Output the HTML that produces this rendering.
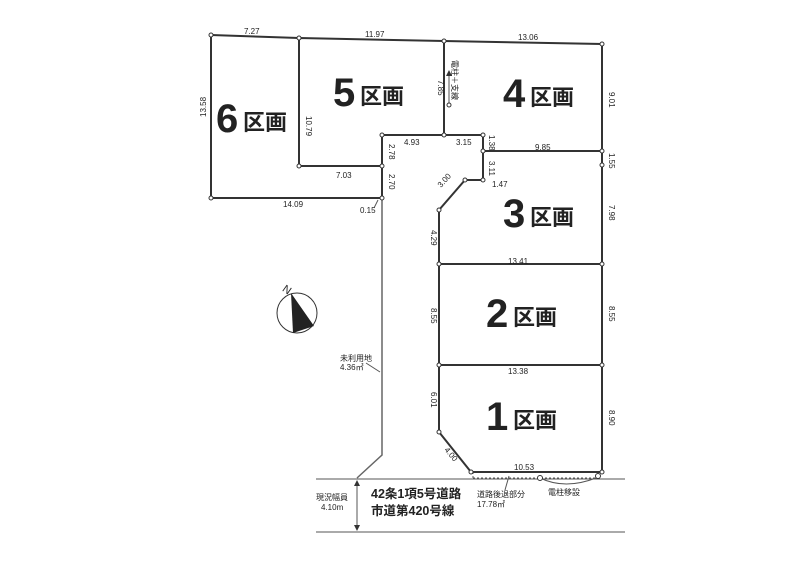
<!DOCTYPE html>
<html><head><meta charset="utf-8"><style>
body{margin:0;background:#fff}
svg{display:block}
text{font-family:"Liberation Sans","Noto Sans CJK JP",sans-serif;fill:#222}
.s{font-size:8px}
.big{font-size:40px;font-weight:bold}
.k{font-size:22px;font-weight:bold}
</style></head><body>
<svg width="800" height="583" viewBox="0 0 800 583">
<g stroke="#333" stroke-width="2" fill="none">
<polyline points="211,35 299,38 444,41 602,44 602,472 471,472 439,432 439,210 465,180 483,180 483,135 382,135 382,166 299,166 299,38"/>
<polyline points="211,35 211,198 382,198 382,166"/>
<line x1="444" y1="41" x2="444" y2="135"/>
<line x1="483" y1="151" x2="602" y2="151"/>
<line x1="439" y1="264" x2="602" y2="264"/>
<line x1="439" y1="365" x2="602" y2="365"/>
</g>
<g stroke="#666" stroke-width="1.5" fill="none">
<polyline points="382,198 382,455 357,478"/>
</g>
<g stroke="#555" stroke-width="1" fill="none">
<line x1="316" y1="479" x2="625" y2="479"/>
<line x1="316" y1="532" x2="625" y2="532"/>
<line x1="357" y1="481" x2="357" y2="530"/>
<line x1="473" y1="478" x2="600" y2="478" stroke-dasharray="2,2"/>
<line x1="473" y1="472" x2="473" y2="478" stroke-dasharray="2,2"/>
<line x1="509" y1="476" x2="505" y2="490"/>
<path d="M540,478 Q565,490 596,478"/>
<line x1="449" y1="74" x2="449" y2="105"/>
<line x1="378" y1="200" x2="374" y2="208"/>
<line x1="366" y1="363" x2="380" y2="372"/>
</g>
<polygon points="357,480 354,486 360,486" fill="#333"/>
<polygon points="357,531 354,525 360,525" fill="#333"/>
<polygon points="449,70 446,76 452,76" fill="#333"/>
<g fill="#fff" stroke="#333" stroke-width="1">
<circle cx="211" cy="35" r="2"/><circle cx="299" cy="38" r="2"/><circle cx="444" cy="41" r="2"/><circle cx="602" cy="44" r="2"/>
<circle cx="211" cy="198" r="2"/><circle cx="382" cy="198" r="2"/><circle cx="382" cy="166" r="2"/><circle cx="299" cy="166" r="2"/>
<circle cx="382" cy="135" r="2"/><circle cx="444" cy="135" r="2"/><circle cx="483" cy="135" r="2"/><circle cx="483" cy="151" r="2"/>
<circle cx="602" cy="151" r="2"/><circle cx="602" cy="165" r="2"/><circle cx="483" cy="180" r="2"/><circle cx="465" cy="180" r="2"/>
<circle cx="439" cy="210" r="2"/><circle cx="439" cy="264" r="2"/><circle cx="602" cy="264" r="2"/><circle cx="439" cy="365" r="2"/>
<circle cx="602" cy="365" r="2"/><circle cx="439" cy="432" r="2"/><circle cx="471" cy="472" r="2"/><circle cx="602" cy="472" r="2"/>
<circle cx="449" cy="105" r="2"/><circle cx="540" cy="478" r="2.5"/><circle cx="598" cy="476" r="2.5"/>
</g>
<circle cx="297" cy="313" r="20" fill="none" stroke="#333" stroke-width="1"/>
<polygon points="291,293 293,333 314,326" fill="#222"/>
<text x="283" y="294" font-size="11" font-family="Liberation Serif" transform="rotate(35 288 290)">N</text>
<g>
<text x="216" y="132" class="big">6</text><text x="243" y="130" class="k">区画</text>
<text x="333" y="106" class="big">5</text><text x="360" y="104" class="k">区画</text>
<text x="503" y="107" class="big">4</text><text x="530" y="105" class="k">区画</text>
<text x="503" y="227" class="big">3</text><text x="530" y="225" class="k">区画</text>
<text x="486" y="327" class="big">2</text><text x="513" y="325" class="k">区画</text>
<text x="486" y="430" class="big">1</text><text x="513" y="428" class="k">区画</text>
</g>
<g class="s">
<text x="244" y="34">7.27</text><text x="365" y="37">11.97</text><text x="518" y="40">13.06</text>
<text x="404" y="145">4.93</text><text x="456" y="145">3.15</text><text x="336" y="178">7.03</text>
<text x="535" y="150">9.85</text><text x="492" y="187">1.47</text><text x="283" y="207">14.09</text>
<text x="360" y="213">0.15</text><text x="508" y="264">13.41</text><text x="508" y="374">13.38</text>
<text x="514" y="470">10.53</text>
<text x="340" y="361">未利用地</text><text x="340" y="370">4.36㎡</text>
<text x="477" y="497">道路後退部分</text><text x="477" y="507">17.78㎡</text>
<text x="548" y="495">電柱移設</text>
<text x="316" y="500">現況幅員</text><text x="321" y="510">4.10m</text>
</g>
<text x="371" y="498" font-size="12.5" font-weight="bold">42条1項5号道路</text>
<text x="371" y="515" font-size="12.5" font-weight="bold">市道第420号線</text>
<g class="s">
<text transform="translate(206,117) rotate(-90)">13.58</text>
<text transform="translate(306,116) rotate(90)">10.79</text>
<text transform="translate(438,80) rotate(90)">7.85</text>
<text transform="translate(452,60) rotate(90)">電柱＋支線</text>
<text transform="translate(609,92) rotate(90)">9.01</text>
<text transform="translate(609,153) rotate(90)">1.55</text>
<text transform="translate(609,205) rotate(90)">7.98</text>
<text transform="translate(609,306) rotate(90)">8.55</text>
<text transform="translate(609,410) rotate(90)">8.90</text>
<text transform="translate(389,144) rotate(90)">2.78</text>
<text transform="translate(389,174) rotate(90)">2.70</text>
<text transform="translate(489,135) rotate(90)">1.38</text>
<text transform="translate(489,161) rotate(90)">3.11</text>
<text transform="translate(431,230) rotate(90)">4.29</text>
<text transform="translate(431,308) rotate(90)">8.55</text>
<text transform="translate(431,392) rotate(90)">6.01</text>
<text transform="translate(441,188) rotate(-48)">3.00</text>
<text transform="translate(444,450) rotate(50)">4.00</text>
</g>
</svg>
</body></html>
